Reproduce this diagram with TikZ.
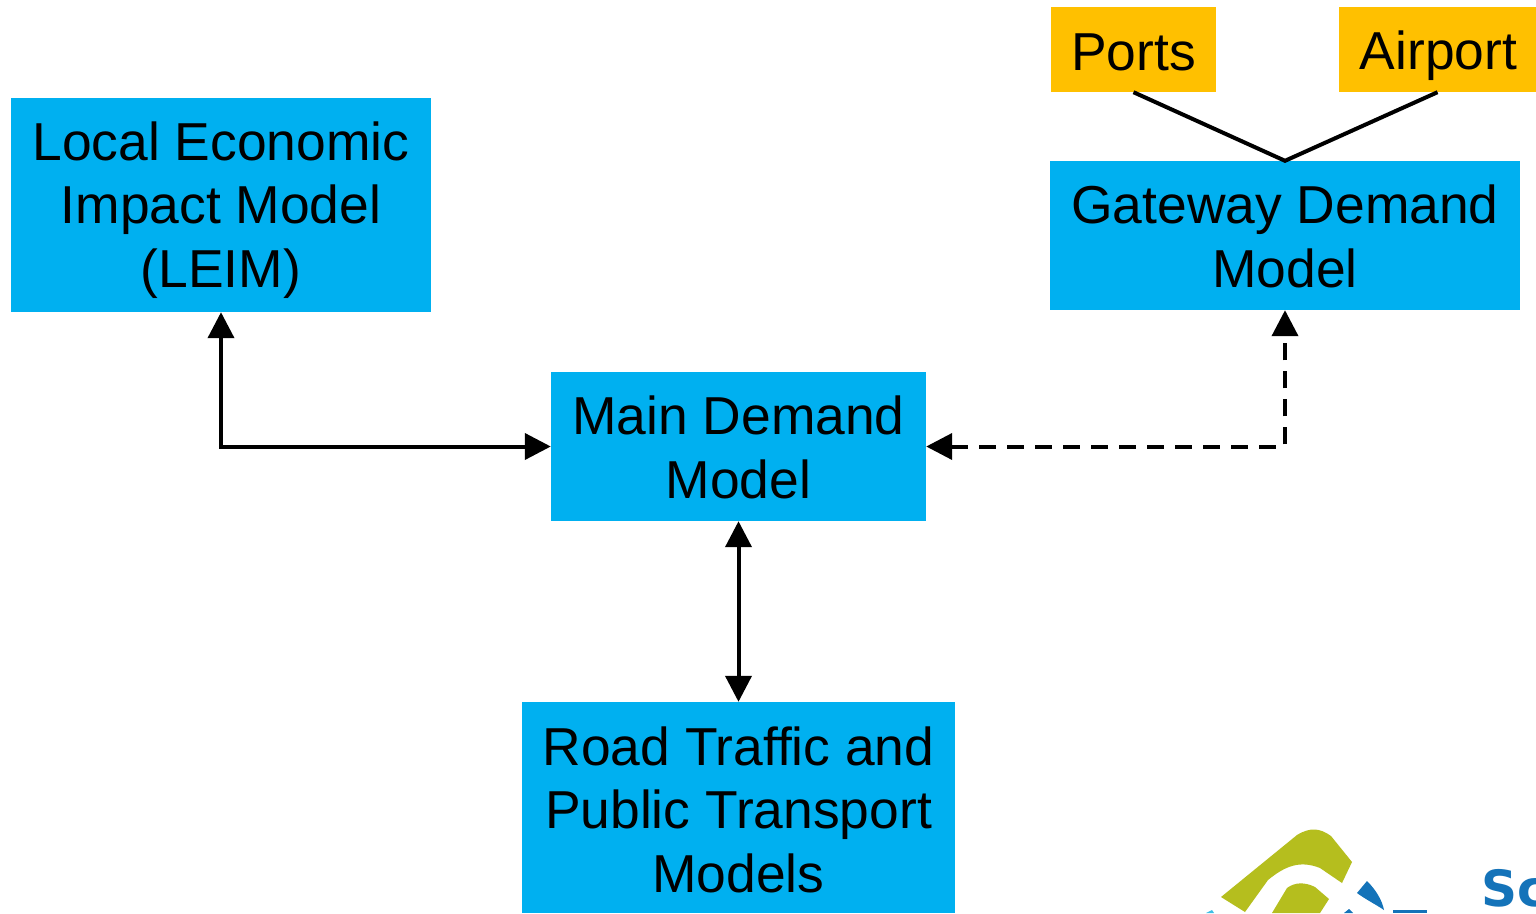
\documentclass[tikz,border=0pt]{standalone}
\usepackage{fontspec}
\setmainfont{Liberation Sans}
\usetikzlibrary{arrows.meta,calc}
\definecolor{boxblue}{RGB}{0,176,240}
\definecolor{boxamber}{RGB}{255,192,0}
\definecolor{logoolive}{RGB}{181,190,30}
\definecolor{logoblue}{RGB}{20,115,185}
\definecolor{logocyan}{RGB}{60,190,230}
\newcommand{\headroom}[1]{\rule{0pt}{#1pt}}
\tikzset{
  modelbox/.style={fill=boxblue,inner sep=0pt,align=center,font=\fontsize{53.4}{63.6}\selectfont,text=black},
  gatebox/.style={fill=boxamber,inner sep=0pt,align=center,font=\fontsize{53.4}{63.6}\selectfont,text=black},
  link/.style={line width=4pt,draw=black},
  twoway/.style={link,{Triangle[length=26pt,width=26pt]}-{Triangle[length=26pt,width=26pt]}},
  dashlink/.style={twoway,dash pattern=on 17pt off 11pt},
}
\begin{document}
\begin{tikzpicture}[x=1pt,y=-1pt]
\useasboundingbox (0,0) rectangle (1536,913);
\clip (0,0) rectangle (1536,913);
\fill[white] (0,0) rectangle (1536,913);
% logo fragment
\fill[logoolive] (1221,897) -- (1297,835) .. controls (1310,827) and (1320,828) .. (1331,836) -- (1352,862) -- (1342,883) -- (1320,868) .. controls (1300,860) and (1285,866) .. (1268,880) -- (1245,912) -- cycle;
\fill[logoolive] (1272,913) -- (1287,888) .. controls (1295,882) and (1305,882) .. (1315,887) -- (1329,899) -- (1320,913) -- cycle;
\fill[logoblue] (1357,893) -- (1367,881) .. controls (1376,890) and (1382,900) .. (1384,910) .. controls (1375,904) and (1365,899) .. (1357,893) -- cycle;
\fill[logoblue] (1393,910) rectangle (1427,913);
\fill[logocyan] (1206,913) -- (1212,910) -- (1214,913) -- cycle;
\fill[logoblue] (1344,913) -- (1349,909) -- (1353,913) -- cycle;
\node[anchor=base west,inner sep=0pt,text=logoblue,font=\fontspec{DejaVu Sans Bold}\fontsize{50}{50}\selectfont] (logotext) at (1481,906) {Sc};
% boxes
\node[modelbox,minimum width=420pt,minimum height=214pt] (leim) at (221,205) {\headroom{49}Local Economic\\Impact Model\\(LEIM)};
\node[modelbox,minimum width=470pt,minimum height=149pt] (gateway) at (1285,235.5) {\headroom{41}Gateway Demand\\Model};
\node[modelbox,minimum width=375pt,minimum height=149pt] (main) at (738.5,446.5) {\headroom{41}Main Demand\\Model};
\node[modelbox,minimum width=433pt,minimum height=211pt] (road) at (738.5,807.5) {\headroom{43}Road Traffic and\\Public Transport\\Models};
\node[gatebox,minimum width=165pt,minimum height=85pt] (ports) at (1133.5,49.5) {\headroom{43}Ports};
\node[gatebox,minimum width=197pt,minimum height=85pt] (airport) at (1437.5,49.5) {\headroom{51}\hspace{2pt}Airport};
% connectors
\draw[twoway] (leim.south) |- (main.west);
\draw[twoway] (main.south) -- (road.north);
\draw[dashlink] (main.east) -| (gateway.south);
\draw[link] (ports.south) -- (gateway.north) -- (airport.south);
\end{tikzpicture}
\end{document}
